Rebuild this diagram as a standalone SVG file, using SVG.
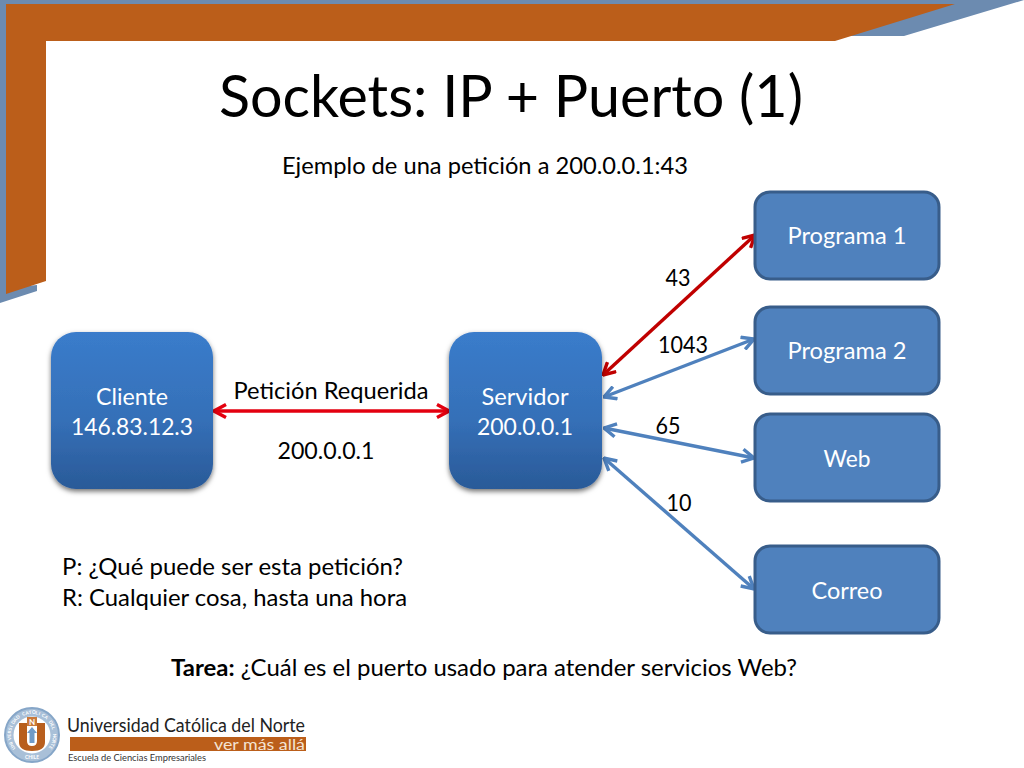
<svg xmlns="http://www.w3.org/2000/svg" width="1024" height="768" viewBox="0 0 1024 768">
<style>
text{font-family:Lato,"Open Sans","Liberation Sans",sans-serif}
.t{font-size:23px;fill:#000}
.n{font-size:23px;fill:#fff;text-anchor:middle}
.c{text-anchor:middle}
.box{fill:#4f81bd;stroke:#385d8a;stroke-width:3}
.g{fill:url(#grad);filter:url(#sh)}
.red{stroke:#e3000f;stroke-width:3.4;fill:none;marker-start:url(#ar);marker-end:url(#ar)}
.dred{stroke:#c00000;stroke-width:3.4;fill:none;marker-start:url(#adr);marker-end:url(#adr)}
.blue{stroke:#4f81bd;stroke-width:3.4;fill:none;marker-start:url(#ab);marker-end:url(#ab)}
</style>
<defs>
<linearGradient id="grad" x1="0" y1="0" x2="0" y2="1"><stop offset="0" stop-color="#3a7ccb"/><stop offset="0.55" stop-color="#3570b8"/><stop offset="1" stop-color="#2a5a98"/></linearGradient>
<filter id="sh" x="-10%" y="-10%" width="120%" height="120%"><feDropShadow dx="0" dy="2.5" stdDeviation="2.5" flood-color="#000" flood-opacity="0.55"/></filter>
<marker id="ar" viewBox="0 0 16 16" refX="15" refY="8" markerWidth="16" markerHeight="16" markerUnits="userSpaceOnUse" orient="auto-start-reverse"><path d="M3 1.5L15 8L3 14.5" fill="none" stroke="#e3000f" stroke-width="3.4"/></marker>
<marker id="adr" viewBox="0 0 16 16" refX="15" refY="8" markerWidth="16" markerHeight="16" markerUnits="userSpaceOnUse" orient="auto-start-reverse"><path d="M3 1.5L15 8L3 14.5" fill="none" stroke="#c00000" stroke-width="3.4"/></marker>
<marker id="ab" viewBox="0 0 16 16" refX="15" refY="8" markerWidth="16" markerHeight="16" markerUnits="userSpaceOnUse" orient="auto-start-reverse"><path d="M3 1.5L15 8L3 14.5" fill="none" stroke="#4f81bd" stroke-width="3.4"/></marker>
</defs>
<rect width="1024" height="768" fill="#fff"/>
<g id="frame">
<path d="M0 0H1024L904 36H780V14H6V288L37 285V291L0 303Z" fill="#6c8bb0"/>
<path d="M6 4H955L835 41H46V281L6 294Z" fill="#bb5e1a"/>
</g>
<text id="title" x="511" y="117" font-size="59" class="c" textLength="584" lengthAdjust="spacingAndGlyphs">Sockets: IP + Puerto (1)</text>
<text x="485" y="174" class="t c" textLength="406" lengthAdjust="spacingAndGlyphs">Ejemplo de una petición a 200.0.0.1:43</text>
<g id="connectors">
<path class="red" d="M214 411H449"/>
<path class="dred" d="M603 375L755 235"/>
<path class="blue" d="M604 397L754 339"/>
<path class="blue" d="M604 428L754 458"/>
<path class="blue" d="M604 458L754 589"/>
</g>
<g id="cliente"><rect class="g" x="51" y="332" width="162" height="157" rx="25"/>
<text class="n" x="132" y="405" textLength="72" lengthAdjust="spacingAndGlyphs">Cliente</text><text class="n" x="132" y="435" textLength="122" lengthAdjust="spacingAndGlyphs">146.83.12.3</text></g>
<g id="servidor"><rect class="g" x="449" y="332" width="153" height="157" rx="25"/>
<text class="n" x="525" y="405" textLength="87" lengthAdjust="spacingAndGlyphs">Servidor</text><text class="n" x="525" y="435" textLength="96" lengthAdjust="spacingAndGlyphs">200.0.0.1</text></g>
<g id="programa1"><rect class="box" x="755" y="192" width="184" height="87" rx="15"/><text class="n" x="847" y="244" textLength="119" lengthAdjust="spacingAndGlyphs">Programa 1</text></g>
<g id="programa2"><rect class="box" x="755" y="307" width="184" height="87" rx="15"/><text class="n" x="847" y="359" textLength="119" lengthAdjust="spacingAndGlyphs">Programa 2</text></g>
<g id="web"><rect class="box" x="755" y="414" width="184" height="87" rx="15"/><text class="n" x="847" y="467" textLength="47" lengthAdjust="spacingAndGlyphs">Web</text></g>
<g id="correo"><rect class="box" x="755" y="546" width="184" height="87" rx="15"/><text class="n" x="847" y="599" textLength="71" lengthAdjust="spacingAndGlyphs">Correo</text></g>
<g id="labels">
<text class="t c" x="678" y="286" textLength="25" lengthAdjust="spacingAndGlyphs">43</text>
<text class="t c" x="683" y="353" textLength="50" lengthAdjust="spacingAndGlyphs">1043</text>
<text class="t c" x="668" y="434" textLength="25" lengthAdjust="spacingAndGlyphs">65</text>
<text class="t c" x="679" y="511" textLength="25" lengthAdjust="spacingAndGlyphs">10</text>
<text class="t c" x="331" y="399" textLength="195" lengthAdjust="spacingAndGlyphs">Petición Requerida</text>
<text class="t c" x="326" y="459" textLength="97" lengthAdjust="spacingAndGlyphs">200.0.0.1</text>
<text class="t" x="62" y="575" textLength="341" lengthAdjust="spacingAndGlyphs">P: ¿Qué puede ser esta petición?</text>
<text class="t" x="62" y="606" textLength="345" lengthAdjust="spacingAndGlyphs">R: Cualquier cosa, hasta una hora</text>
<text class="t" x="171" y="676" textLength="626" lengthAdjust="spacingAndGlyphs"><tspan font-weight="700">Tarea:</tspan> ¿Cuál es el puerto usado para atender servicios Web?</text>
</g>
<g id="logo">
<circle cx="32" cy="735" r="27" fill="#a9c0d8" stroke="#86a6c8" stroke-width="2"/>
<circle cx="32" cy="735" r="18.5" fill="#fff"/>
<text font-size="4.6" fill="#fff" font-weight="700" x="15.7 13.9 12.5 11.5 11.1 11.1 11.5 12.4 13.8 15.6 17.7 20.2 22.9 25.9 29 32.1 35.3 38.3 41.3 44 46.4 48.5 50.3 51.6 52.5 53 52.9 52.4 51.4 50" y="748.2 745.6 742.8 739.8 736.6 733.5 730.4 727.4 724.5 721.9 719.6 717.6 716.1 714.9 714.2 714 714.3 715 716.2 717.8 719.7 722.1 724.7 727.6 730.6 733.7 736.9 740 743 745.8" rotate="-129 -120 -112 -103 -95 -86 -77 -69 -60 -51 -43 -34 -26 -17 -8 0 9 18 26 35 43 52 61 69 78 87 95 104 112 121">UNIVERSIDAD CATOLICA DEL NORTE</text>
<text x="32" y="759" font-size="5" fill="#fff" font-weight="700" text-anchor="middle">CHILE</text>
<path d="M19 723H27V741Q27 746 32 746Q37 746 37 741V723H45V742Q45 751 32 751Q19 751 19 742Z" fill="#b85f1e"/>
<rect x="27" y="717" width="10" height="9" fill="#c9793a"/>
<text x="32" y="725" font-size="8" fill="#fff" font-weight="700" text-anchor="middle">N</text>
<path d="M32 727L37 733H34.500V743H29.500V733H27Z" fill="#6f9bc8"/>
<text x="67" y="732" font-size="18.500" fill="#222" textLength="238" lengthAdjust="spacingAndGlyphs">Universidad Católica del Norte</text>
<rect x="70" y="737" width="236" height="14" fill="#bb5e1a"/>
<text x="305" y="750" font-size="14.500" fill="#f4e3d2" text-anchor="end" textLength="91" lengthAdjust="spacingAndGlyphs">ver más allá</text>
<text x="68" y="761" font-size="9.500" fill="#333" textLength="138" lengthAdjust="spacingAndGlyphs">Escuela de Ciencias Empresariales</text>
</g>
</svg>
